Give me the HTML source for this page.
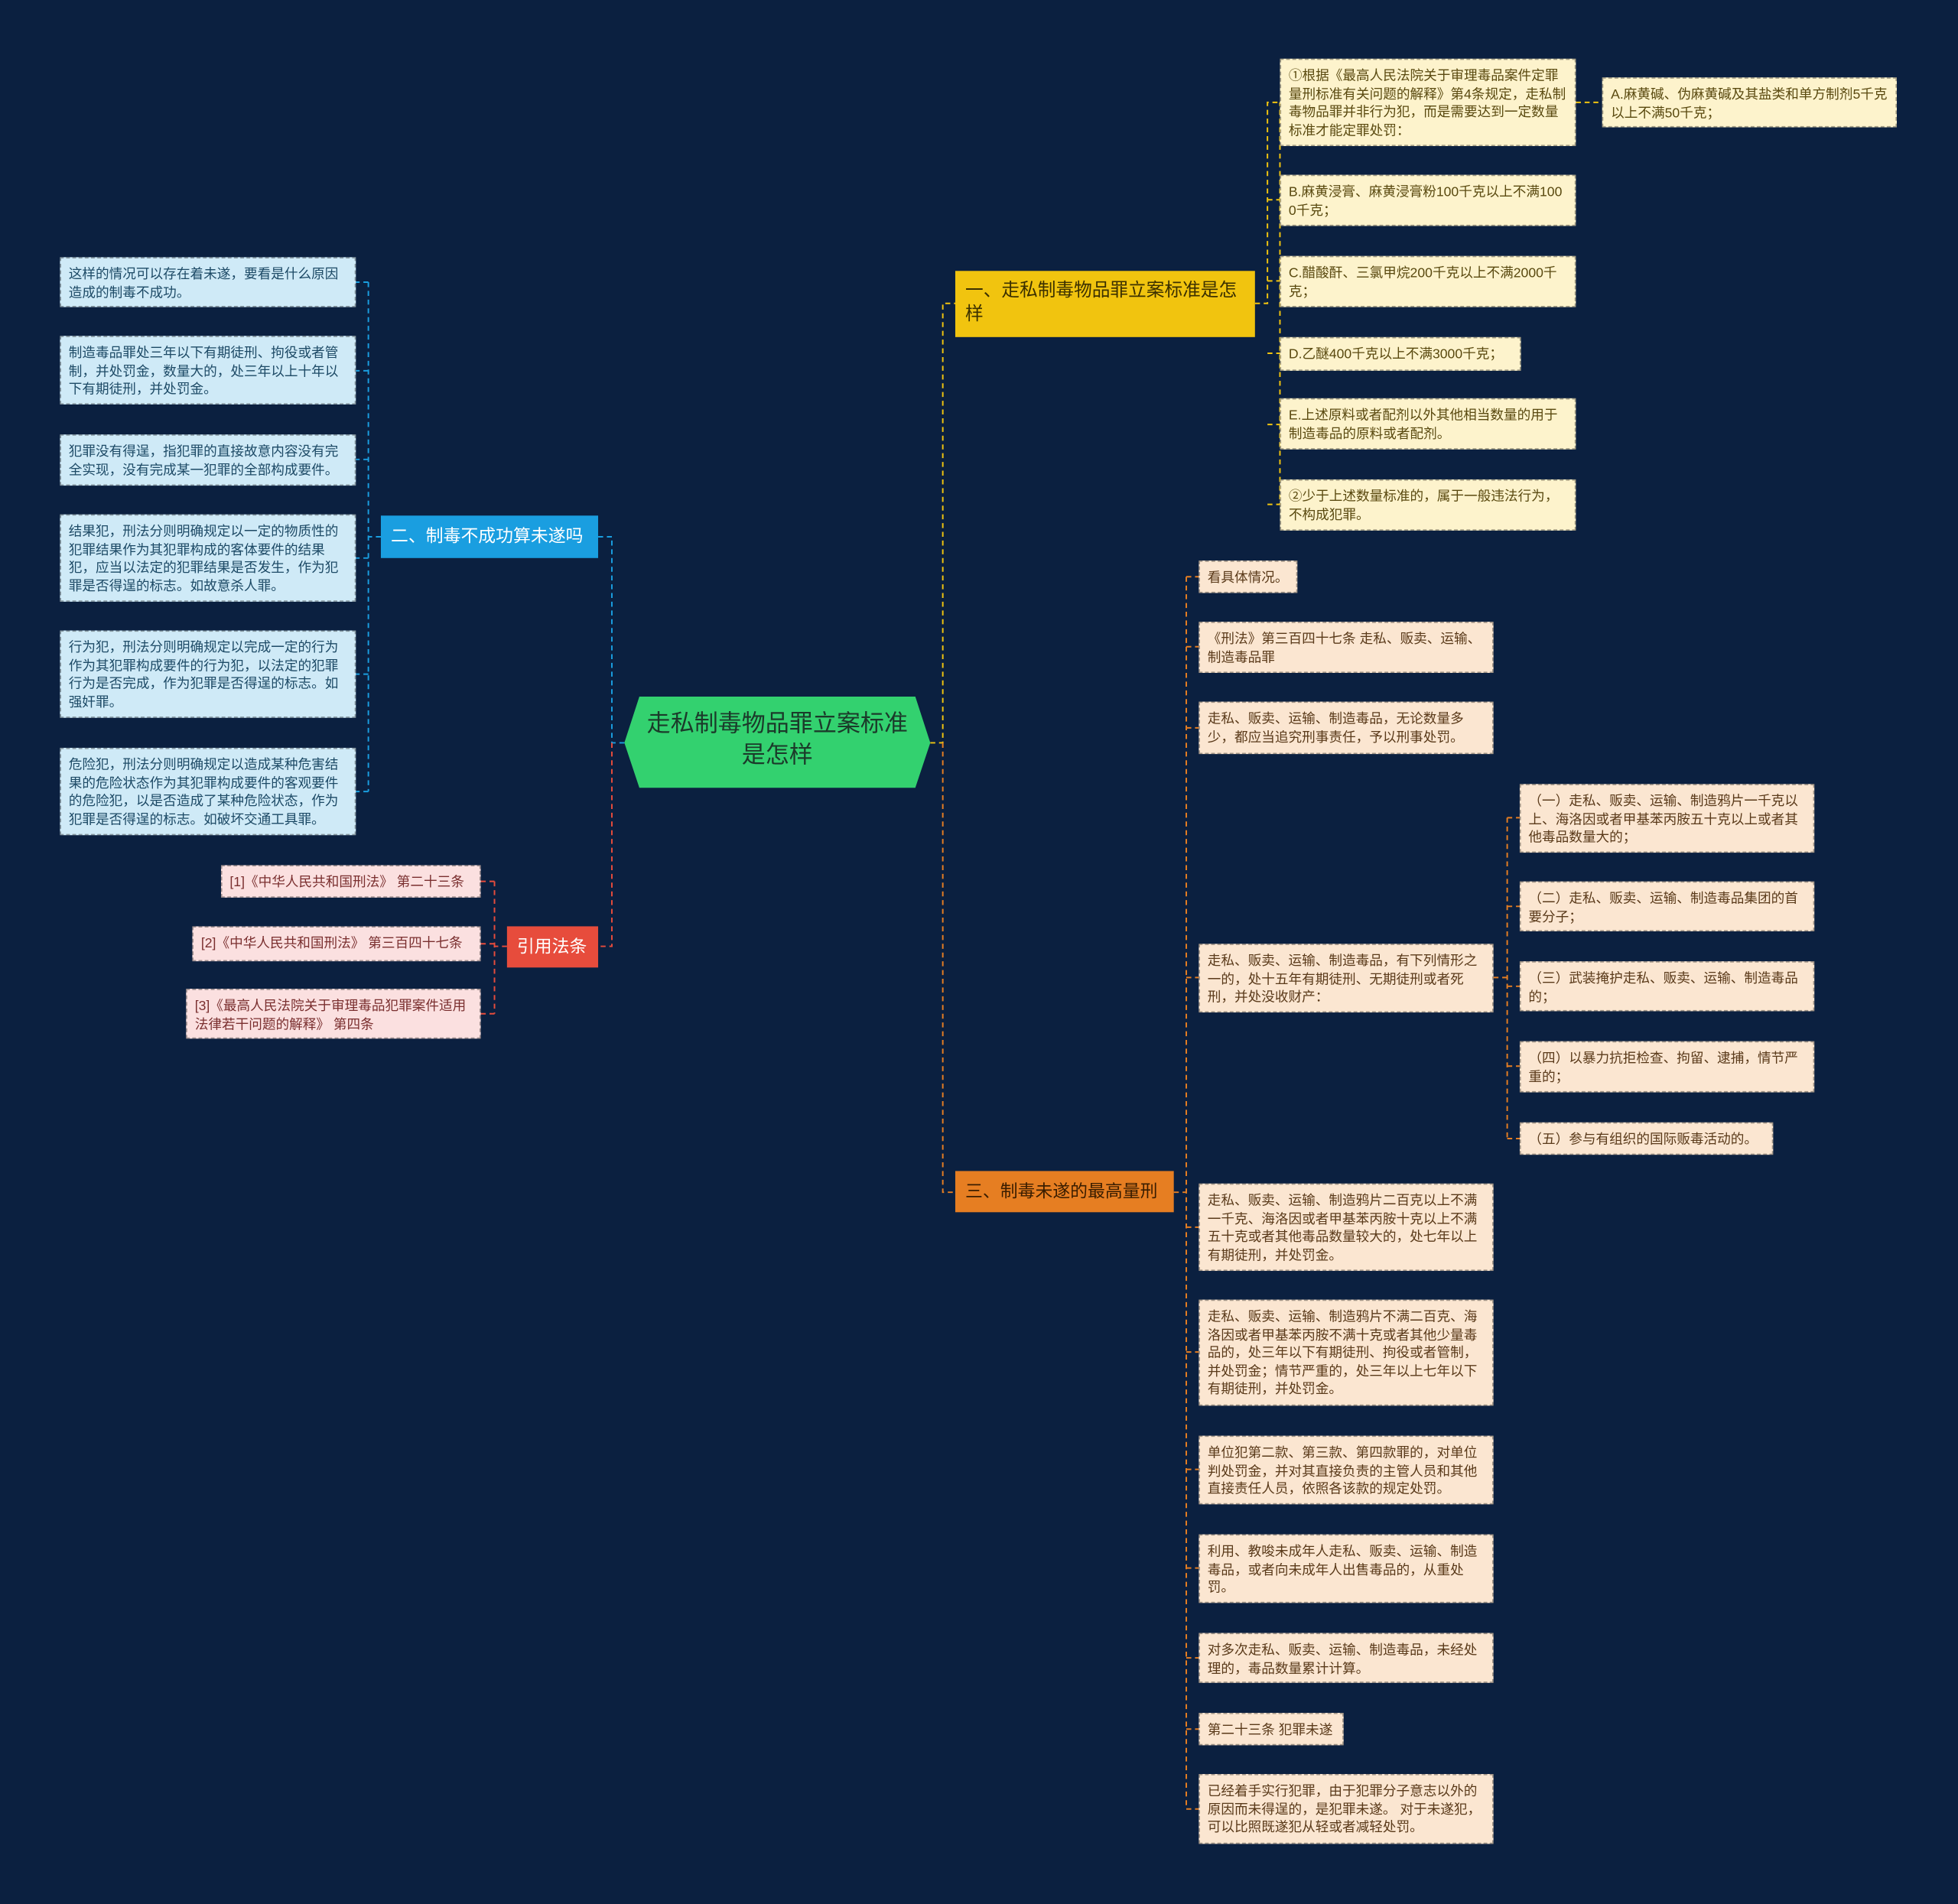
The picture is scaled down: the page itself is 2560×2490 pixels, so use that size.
<!DOCTYPE html>
<html><head><meta charset="utf-8"><style>
html,body{margin:0;padding:0;background:#0b2040;width:2560px;height:2489px;overflow:hidden}
#w{position:absolute;left:0;top:0;width:1568px;height:1525px;transform:scale(1.63265);transform-origin:0 0;font-family:"Liberation Sans","Noto Sans CJK SC",sans-serif}
.n{position:absolute;box-sizing:border-box;padding:6px 5px 0 6px;font-size:10.8px;line-height:14.6px;border:1px dashed rgba(0,0,0,0.35);color:#333;overflow:hidden;white-space:normal;word-break:break-all}
.nw{white-space:nowrap}
.y{background:#fdf3cc;color:#5a4a10}
.o{background:#fbe6d1;color:#5a3a1a}
.b{background:#cfeaf7;color:#1d4a66}
.p{background:#fbe0e0;color:#7a2f2f}
.m{position:absolute;box-sizing:border-box;font-size:14px;line-height:19px;padding:7px 8px}
svg{position:absolute;left:0;top:0}
</style></head><body><div id="w">
<svg width="1568" height="1525" fill="none" stroke-dasharray="4,3" stroke-width="1.2">
<g stroke="#f1c40f">
<path d="M745 595 H755 V243 H765"/>
<path d="M1005 243 H1015 V82 H1025 M1015 160 H1025 M1015 225 H1025 M1015 283 H1025 M1015 340 H1025 M1015 404 H1025 V82"/>
<path d="M1262 82 H1283"/>
</g>
<g stroke="#e67e22">
<path d="M755 595 V955 H765"/>
<path d="M940 955 H950 M950 462 V1449 M950 462 H960 M950 518 H960 M950 583 H960 M950 783 H960 M950 983 H960 M950 1083 H960 M950 1177 H960 M950 1256 H960 M950 1328 H960 M950 1385 H960 M950 1449 H960"/>
<path d="M1196 783 H1207 M1207 655 V912 M1207 655 H1217 M1207 726 H1217 M1207 790 H1217 M1207 854 H1217 M1207 912 H1217"/>
</g>
<g stroke="#1a9ee0">
<path d="M500 595 H490 V430 H479"/>
<path d="M305 430 H295 M295 226 V634 M295 226 H285 M295 297 H285 M295 368 H285 M295 447 H285 M295 540 H285 M295 634 H285"/>
</g>
<g stroke="#e74c3c">
<path d="M490 595 V758 H479"/>
<path d="M406 758 H396 M396 706 V812 M396 706 H385 M396 756 H385 M396 812 H385"/>
</g>
</svg>
<svg width="1568" height="1525"><polygon points="512,558 733,558 745,595 733,631 512,631 500,595" fill="#33d16f"/></svg>
<div class="m" style="left:500px;top:568px;width:245px;text-align:center;font-size:19px;line-height:25px;color:#1b3a2a;padding:0 14px">走私制毒物品罪立案标准是怎样</div>

<div class="m" style="left:765px;top:217px;width:240px;height:53px;background:#f1c40f;color:#3b3000;padding:7px 14px 7px 8px;font-size:14.5px">一、走私制毒物品罪立案标准是怎样</div>
<div class="m" style="left:765px;top:938px;width:175px;height:33px;background:#e67e22;color:#3a1d00">三、制毒未遂的最高量刑</div>
<div class="m" style="left:305px;top:413px;width:174px;height:34px;background:#1a9ee0;color:#fff">二、制毒不成功算未遂吗</div>
<div class="m" style="left:406px;top:742px;width:73px;height:33px;background:#e74c3c;color:#fff">引用法条</div>

<div class="n y" style="left:1025px;top:47px;width:237px;height:70px">①根据《最高人民法院关于审理毒品案件定罪量刑标准有关问题的解释》第4条规定，走私制毒物品罪并非行为犯，而是需要达到一定数量标准才能定罪处罚：</div>
<div class="n y" style="left:1283px;top:62px;width:236px;height:40px">A.麻黄碱、伪麻黄碱及其盐类和单方制剂5千克以上不满50千克；</div>
<div class="n y" style="left:1025px;top:140px;width:237px;height:41px">B.麻黄浸膏、麻黄浸膏粉100千克以上不满1000千克；</div>
<div class="n y" style="left:1025px;top:205px;width:237px;height:41px">C.醋酸酐、三氯甲烷200千克以上不满2000千克；</div>
<div class="n y nw" style="left:1025px;top:270px;width:193px;height:27px">D.乙醚400千克以上不满3000千克；</div>
<div class="n y" style="left:1025px;top:319px;width:237px;height:41px">E.上述原料或者配剂以外其他相当数量的用于制造毒品的原料或者配剂。</div>
<div class="n y" style="left:1025px;top:384px;width:237px;height:41px">②少于上述数量标准的，属于一般违法行为，不构成犯罪。</div>

<div class="n o nw" style="left:960px;top:449px;width:79px;height:26px">看具体情况。</div>
<div class="n o" style="left:960px;top:498px;width:236px;height:41px">《刑法》第三百四十七条 走私、贩卖、运输、制造毒品罪</div>
<div class="n o" style="left:960px;top:562px;width:236px;height:42px">走私、贩卖、运输、制造毒品，无论数量多少，都应当追究刑事责任，予以刑事处罚。</div>
<div class="n o" style="left:960px;top:756px;width:236px;height:55px">走私、贩卖、运输、制造毒品，有下列情形之一的，处十五年有期徒刑、无期徒刑或者死刑，并处没收财产：</div>
<div class="n o" style="left:1217px;top:628px;width:236px;height:55px">（一）走私、贩卖、运输、制造鸦片一千克以上、海洛因或者甲基苯丙胺五十克以上或者其他毒品数量大的；</div>
<div class="n o" style="left:1217px;top:706px;width:236px;height:40px">（二）走私、贩卖、运输、制造毒品集团的首要分子；</div>
<div class="n o" style="left:1217px;top:770px;width:236px;height:40px">（三）武装掩护走私、贩卖、运输、制造毒品的；</div>
<div class="n o" style="left:1217px;top:834px;width:236px;height:41px">（四）以暴力抗拒检查、拘留、逮捕，情节严重的；</div>
<div class="n o nw" style="left:1217px;top:899px;width:203px;height:26px">（五）参与有组织的国际贩毒活动的。</div>
<div class="n o" style="left:960px;top:948px;width:236px;height:70px">走私、贩卖、运输、制造鸦片二百克以上不满一千克、海洛因或者甲基苯丙胺十克以上不满五十克或者其他毒品数量较大的，处七年以上有期徒刑，并处罚金。</div>
<div class="n o" style="left:960px;top:1041px;width:236px;height:85px">走私、贩卖、运输、制造鸦片不满二百克、海洛因或者甲基苯丙胺不满十克或者其他少量毒品的，处三年以下有期徒刑、拘役或者管制，并处罚金；情节严重的，处三年以上七年以下有期徒刑，并处罚金。</div>
<div class="n o" style="left:960px;top:1150px;width:236px;height:55px">单位犯第二款、第三款、第四款罪的，对单位判处罚金，并对其直接负责的主管人员和其他直接责任人员，依照各该款的规定处罚。</div>
<div class="n o" style="left:960px;top:1229px;width:236px;height:55px">利用、教唆未成年人走私、贩卖、运输、制造毒品，或者向未成年人出售毒品的，从重处罚。</div>
<div class="n o" style="left:960px;top:1308px;width:236px;height:40px">对多次走私、贩卖、运输、制造毒品，未经处理的，毒品数量累计计算。</div>
<div class="n o nw" style="left:960px;top:1372px;width:116px;height:26px">第二十三条 犯罪未遂</div>
<div class="n o" style="left:960px;top:1421px;width:236px;height:56px">已经着手实行犯罪，由于犯罪分子意志以外的原因而未得逞的，是犯罪未遂。 对于未遂犯，可以比照既遂犯从轻或者减轻处罚。</div>

<div class="n b" style="left:48px;top:206px;width:237px;height:40px">这样的情况可以存在着未遂，要看是什么原因造成的制毒不成功。</div>
<div class="n b" style="left:48px;top:269px;width:237px;height:55px">制造毒品罪处三年以下有期徒刑、拘役或者管制，并处罚金，数量大的，处三年以上十年以下有期徒刑，并处罚金。</div>
<div class="n b" style="left:48px;top:348px;width:237px;height:41px">犯罪没有得逞，指犯罪的直接故意内容没有完全实现，没有完成某一犯罪的全部构成要件。</div>
<div class="n b" style="left:48px;top:412px;width:237px;height:70px">结果犯，刑法分则明确规定以一定的物质性的犯罪结果作为其犯罪构成的客体要件的结果犯，应当以法定的犯罪结果是否发生，作为犯罪是否得逞的标志。如故意杀人罪。</div>
<div class="n b" style="left:48px;top:505px;width:237px;height:70px">行为犯，刑法分则明确规定以完成一定的行为作为其犯罪构成要件的行为犯，以法定的犯罪行为是否完成，作为犯罪是否得逞的标志。如强奸罪。</div>
<div class="n b" style="left:48px;top:599px;width:237px;height:70px">危险犯，刑法分则明确规定以造成某种危害结果的危险状态作为其犯罪构成要件的客观要件的危险犯，以是否造成了某种危险状态，作为犯罪是否得逞的标志。如破坏交通工具罪。</div>

<div class="n p nw" style="left:177px;top:693px;width:208px;height:26px">[1]《中华人民共和国刑法》 第二十三条</div>
<div class="n p nw" style="left:154px;top:742px;width:231px;height:28px">[2]《中华人民共和国刑法》 第三百四十七条</div>
<div class="n p" style="left:149px;top:792px;width:236px;height:40px">[3]《最高人民法院关于审理毒品犯罪案件适用法律若干问题的解释》 第四条</div>
</div></body></html>
